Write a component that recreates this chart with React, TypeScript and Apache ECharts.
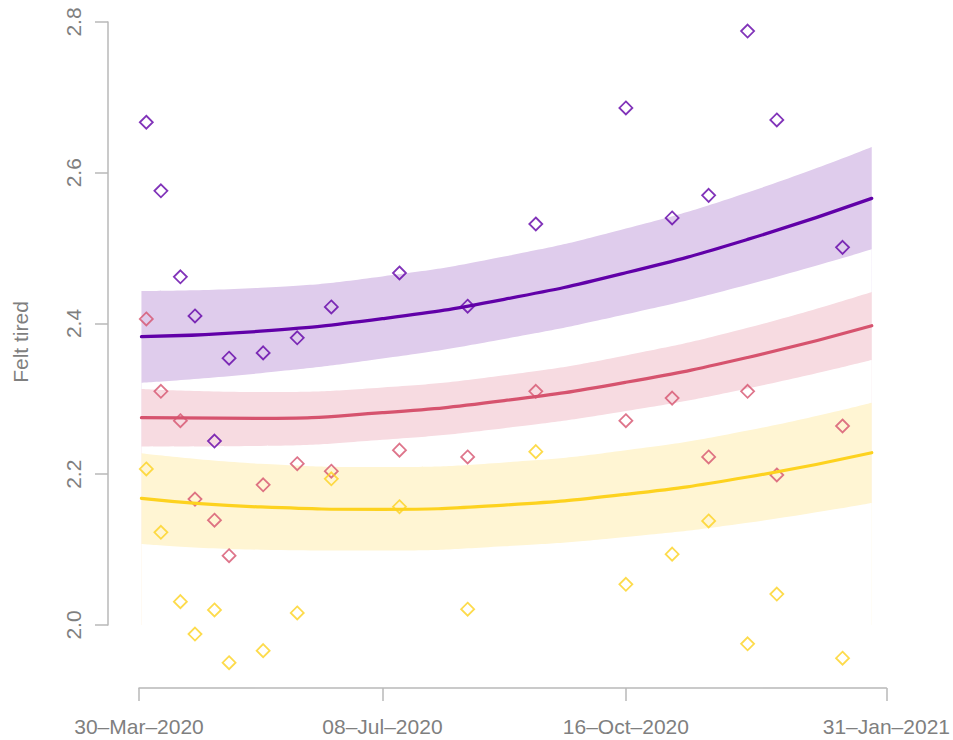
import React, { useEffect, useRef } from "react";
import * as echarts from "echarts";

// Survey dates (x) and observed means per group
const surveyDates = [
  "2020-04-02", "2020-04-08", "2020-04-16", "2020-04-22", "2020-04-30", "2020-05-06",
  "2020-05-20", "2020-06-03", "2020-06-17", "2020-07-15", "2020-08-12", "2020-09-09",
  "2020-10-16", "2020-11-04", "2020-11-19", "2020-12-05", "2020-12-17", "2021-01-13",
];
const purplePoints = [2.667, 2.576, 2.462, 2.410, 2.244, 2.354, 2.361, 2.381, 2.422, 2.467, 2.423, 2.532, 2.686, 2.540, 2.570, 2.788, 2.670, 2.501];
const pinkPoints = [2.406, 2.310, 2.271, 2.167, 2.139, 2.092, 2.186, 2.214, 2.204, 2.232, 2.223, 2.310, 2.271, 2.301, 2.223, 2.310, 2.199, 2.264];
const yellowPoints = [2.207, 2.123, 2.031, 1.988, 2.020, 1.950, 1.966, 2.016, 2.194, 2.157, 2.021, 2.230, 2.054, 2.094, 2.138, 1.975, 2.041, 1.956];

// Fitted curves and confidence bands (days since 30-Mar-2020)
const fitDays = [1, 50, 100, 150, 200, 250, 301];
const purpleFit = [2.3825, 2.3898, 2.4064, 2.4321, 2.4673, 2.5116, 2.566];
const purpleUpper = [2.4431, 2.4474, 2.4625, 2.4888, 2.5259, 2.5739, 2.6342];
const purpleLower = [2.3215, 2.3341, 2.3534, 2.3794, 2.4122, 2.4515, 2.4984];
const pinkFit = [2.275, 2.2741, 2.2817, 2.2976, 2.322, 2.3549, 2.3971];
const pinkUpper = [2.3131, 2.3091, 2.3151, 2.3313, 2.3577, 2.3942, 2.4418];
const pinkLower = [2.2366, 2.2375, 2.2457, 2.2611, 2.2838, 2.3138, 2.3516];
const yellowFit = [2.1681, 2.1566, 2.1535, 2.1591, 2.1734, 2.1963, 2.2286];
const yellowUpper = [2.2278, 2.2139, 2.2096, 2.2156, 2.2317, 2.2579, 2.2949];
const yellowLower = [2.1075, 2.0999, 2.0988, 2.1045, 2.1168, 2.1357, 2.1619];

// Axis ticks
const xTickDays = [0, 100, 200, 307];
const xTickLabels = ["30–Mar–2020", "08–Jul–2020", "16–Oct–2020", "31–Jan–2021"];
const yTicks = [2.0, 2.2, 2.4, 2.6, 2.8];
const yLabel = "Felt tired";

const ORIGIN = Date.UTC(2020, 2, 30);
const dayOf = (s: string) => {
  const [y, m, d] = s.split("-").map(Number);
  return Math.round((Date.UTC(y, m - 1, d) - ORIGIN) / 86400000);
};

const PURPLE = "#6100A8";
const PINK = "#D6536E";
const YELLOW = "#FDD21F";
const PURPLE_BAND = "#DFCCEC";
const PINK_BAND = "#F7DBE1";
const YELLOW_BAND = "#FFF5D3";
const AXIS = "#B8B8B8";
const TEXT = "#7F7F7F";
const FONT = "Liberation Sans, Arial, sans-serif";

// Filled area from a curve down to the axis minimum (layered to form bands)
function fill(name: string, vals: number[], color: string, z: number) {
  return {
    type: "line",
    name,
    data: fitDays.map((d, i) => [d, vals[i]]),
    showSymbol: false,
    smooth: true,
    lineStyle: { width: 0, opacity: 0 },
    areaStyle: { color, opacity: 1, origin: "start" },
    silent: true,
    z,
  };
}

function fitLine(name: string, vals: number[], color: string) {
  return {
    type: "line",
    name,
    data: fitDays.map((d, i) => [d, vals[i]]),
    showSymbol: false,
    smooth: true,
    lineStyle: { width: 3.2, color, cap: "round" },
    silent: true,
    z: 20,
  };
}

function points(name: string, vals: number[], color: string) {
  return {
    type: "scatter",
    name,
    data: surveyDates.map((s, i) => [dayOf(s), vals[i]]),
    symbol: "diamond",
    symbolSize: 13,
    clip: false,
    itemStyle: { color: "rgba(0,0,0,0)", borderColor: color, borderWidth: 1.8 },
    silent: true,
    z: 15,
  };
}

export default function App() {
  const ref = useRef<HTMLDivElement>(null);
  useEffect(() => {
    if (!ref.current) return;
    const chart = echarts.init(ref.current, undefined, { renderer: "svg" });
    chart.setOption({
      animation: false,
      backgroundColor: "#ffffff",
      textStyle: { fontFamily: FONT },
      grid: { left: 139, top: 22, width: 748, height: 603, containLabel: false },
      xAxis: {
        type: "value",
        min: 0,
        max: 307,
        offset: 63,
        splitLine: { show: false },
        axisLine: { show: true, onZero: false, lineStyle: { color: AXIS, width: 1.5 } },
        axisTick: { show: true, length: 13, customValues: xTickDays, lineStyle: { color: AXIS, width: 1.5 } },
        axisLabel: {
          customValues: xTickDays,
          color: TEXT,
          fontSize: 21,
          fontFamily: FONT,
          margin: 28,
          formatter: (v: number) => {
            const i = xTickDays.indexOf(Math.round(v));
            return i >= 0 ? xTickLabels[i] : "";
          },
        },
      },
      yAxis: {
        type: "value",
        min: 2.0,
        max: 2.8,
        interval: 0.2,
        offset: 31,
        splitLine: { show: false },
        axisLine: { show: true, onZero: false, lineStyle: { color: AXIS, width: 1.5 } },
        axisTick: { show: true, length: 13, customValues: yTicks, lineStyle: { color: AXIS, width: 1.5 } },
        axisLabel: {
          customValues: yTicks,
          rotate: 90,
          color: TEXT,
          fontSize: 21,
          fontFamily: FONT,
          margin: 24,
          formatter: (v: number) => v.toFixed(1),
        },
      },
      graphic: [
        {
          type: "text",
          x: 20,
          y: 342,
          rotation: Math.PI / 2,
          style: {
            text: yLabel,
            fill: TEXT,
            font: `21px ${FONT}`,
            textAlign: "center",
            textVerticalAlign: "middle",
          },
        },
      ],
      series: [
        fill("purple upper", purpleUpper, PURPLE_BAND, 1),
        fill("purple lower", purpleLower, "#ffffff", 2),
        fill("pink upper", pinkUpper, PINK_BAND, 3),
        fill("pink lower", pinkLower, "#ffffff", 4),
        fill("yellow upper", yellowUpper, YELLOW_BAND, 5),
        fill("yellow lower", yellowLower, "#ffffff", 6),
        points("purple points", purplePoints, PURPLE),
        points("pink points", pinkPoints, PINK),
        points("yellow points", yellowPoints, YELLOW),
        fitLine("purple fit", purpleFit, PURPLE),
        fitLine("pink fit", pinkFit, PINK),
        fitLine("yellow fit", yellowFit, YELLOW),
      ],
    });
    return () => chart.dispose();
  }, []);
  return (
    <div
      ref={ref}
      style={{ position: "absolute", left: 0, top: 0, width: 953, height: 740, background: "#fff" }}
    />
  );
}
